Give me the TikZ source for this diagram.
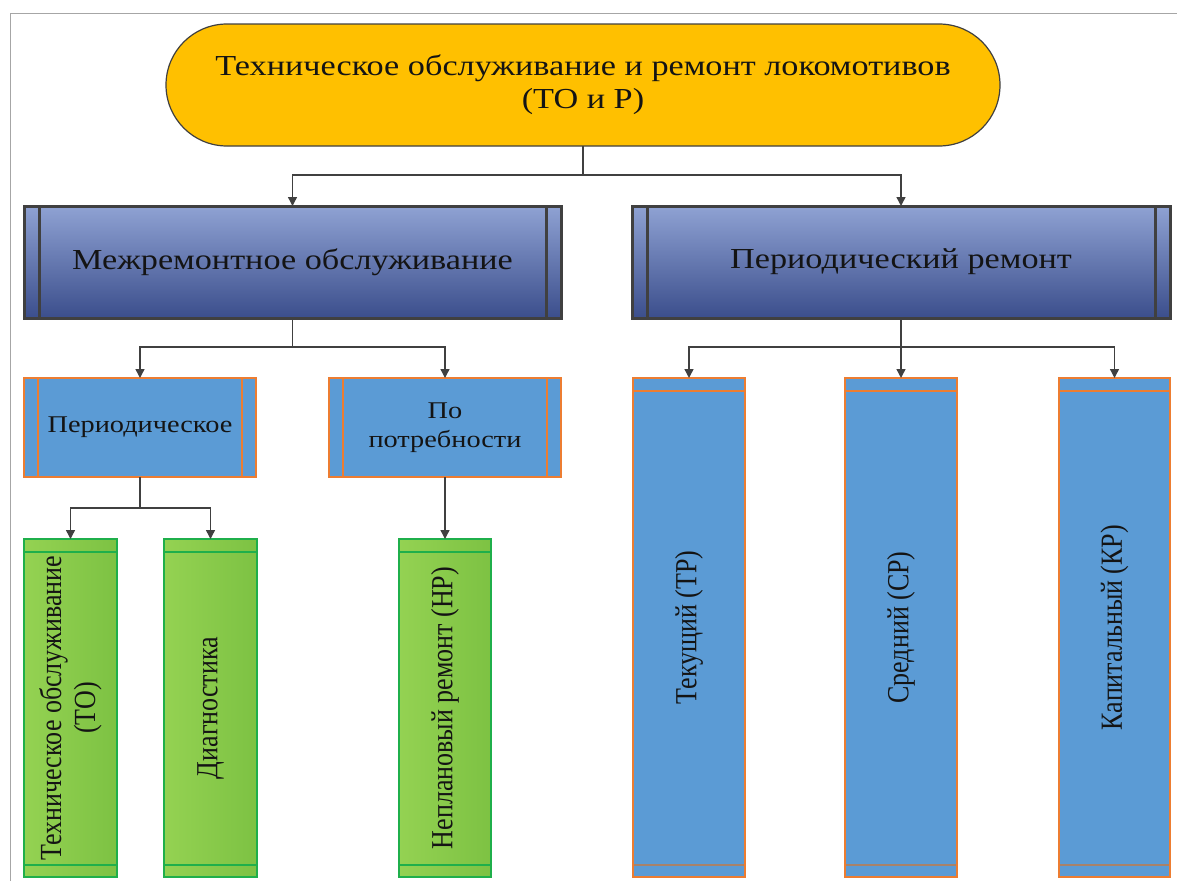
\documentclass[tikz,border=0pt]{standalone}
\usepackage{fontspec}
\setmainfont{Liberation Serif}[FakeStretch=1.18]
\newfontfamily\upfont{Liberation Serif}[FakeStretch=0.847]
\usetikzlibrary{arrows.meta}

\definecolor{gold}{HTML}{FFC000}
\definecolor{edge}{HTML}{404040}
\definecolor{navtop}{HTML}{8FA2D3}
\definecolor{navbot}{HTML}{3B4E8C}
\definecolor{skyfill}{HTML}{5B9BD5}
\definecolor{orangeline}{HTML}{ED7D31}
\definecolor{brownline}{HTML}{A8826A}
\definecolor{leafL}{HTML}{94D252}
\definecolor{leafR}{HTML}{7DC243}
\definecolor{leafline}{HTML}{1FAF4B}
\definecolor{framegray}{HTML}{A6A6A6}
\definecolor{ink}{HTML}{141414}

\begin{document}
\begin{tikzpicture}[x=1pt,y=-1pt,
  every node/.style={inner sep=0pt, outer sep=0pt, text=ink},
  rootbox/.style={draw=edge, line width=1.2pt, fill=gold, rounded corners=61pt,
    minimum width=834pt, minimum height=122pt, align=center,
    font=\fontsize{29}{33}\selectfont},
  darkbox/.style={draw=edge, line width=3pt, top color=navtop, bottom color=navbot,
    minimum width=537pt, minimum height=112pt, font=\fontsize{29}{33}\selectfont,
    path picture={\draw[edge, line width=3pt]
      ([xshift=15pt]path picture bounding box.north west) -- ([xshift=15pt]path picture bounding box.south west)
      ([xshift=-15pt]path picture bounding box.north east) -- ([xshift=-15pt]path picture bounding box.south east);}},
  skybox/.style={draw=orangeline, line width=1.5pt, fill=skyfill,
    minimum width=232pt, minimum height=99pt, align=center,
    font=\fontsize{24}{29}\selectfont,
    path picture={\draw[orangeline, line width=1.5pt]
      ([xshift=14pt]path picture bounding box.north west) -- ([xshift=14pt]path picture bounding box.south west)
      ([xshift=-14pt]path picture bounding box.north east) -- ([xshift=-14pt]path picture bounding box.south east);}},
  tallbox/.style={draw=orangeline, line width=1.5pt, fill=skyfill,
    minimum width=112pt, minimum height=499pt,
    path picture={\draw[orangeline, line width=1.5pt]
      ([yshift=-13pt]path picture bounding box.north west) -- ([yshift=-13pt]path picture bounding box.north east);
      \draw[brownline, line width=2pt]
      ([yshift=12pt]path picture bounding box.south west) -- ([yshift=12pt]path picture bounding box.south east);}},
  leafbox/.style={draw=leafline, line width=1.5pt, left color=leafL, right color=leafR,
    minimum width=93pt, minimum height=338pt,
    path picture={\draw[leafline, line width=1.5pt]
      ([yshift=-13pt]path picture bounding box.north west) -- ([yshift=-13pt]path picture bounding box.north east)
      ([yshift=12pt]path picture bounding box.south west) -- ([yshift=12pt]path picture bounding box.south east);}},
  uplabel/.style={rotate=90, align=center, font=\upfont\fontsize{30.7}{34}\selectfont},
  conn/.style={draw=edge, line width=1.4pt},
  arr/.style={conn, -{Triangle[width=9pt,length=9pt]}}
]
\useasboundingbox (0,0) rectangle (1177,881);

% outer frame
\draw[framegray, line width=1pt] (10,881) -- (10,13) -- (1177,13);

% top level
\node[rootbox] (root) at (583,85) {\raisebox{-2pt}{Техническое обслуживание и ремонт локомотивов}\\\raisebox{-2pt}{(ТО и Р)}};

% second level
\node[darkbox] (inter) at (292.5,262) {Межремонтное обслуживание};
\node[darkbox, minimum width=538pt] (period) at (901,262) {Периодический ремонт};

% third level, left branch
\node[skybox] (regular) at (140,427.5) {Периодическое};
\node[skybox] (need) at (445,427.5) {По\\потребности};

% third level, right branch
\node[tallbox] (tr) at (689,627.5) {};
\node[tallbox] (sr) at (901,627.5) {};
\node[tallbox, minimum width=111pt] (kr) at (1114.5,627.5) {};
\node[uplabel] (trT) at (tr.center) {Текущий (ТР)};
\node[uplabel] (srT) at (sr.center) {Средний (СР)};
\node[uplabel] (krT) at (kr.center) {Капитальный (КР)};

% fourth level
\node[leafbox] (to) at (70.5,708) {};
\node[leafbox] (diag) at (210.5,708) {};
\node[leafbox, minimum width=92pt] (np) at (445,708) {};
\node[uplabel] (toT) at (to.center) {Техническое обслуживание\\(ТО)};
\node[uplabel] (diagT) at (diag.center) {Диагностика};
\node[uplabel] (npT) at (np.center) {Неплановый ремонт (НР)};

% junction points
\coordinate (j0) at (583,175);
\coordinate (j1) at (292.5,347);
\coordinate (j2) at (901,347);
\coordinate (j3) at (140,508);

% connectors
\draw[conn] (root.south) -- (j0);
\draw[arr] (j0) -| (inter.north);
\draw[arr] (j0) -| (period.north);

\draw[conn] (inter.south) -- (j1);
\draw[arr] (j1) -| (regular.north);
\draw[arr] (j1) -| (need.north);

\draw[conn] (period.south) -- (j2);
\draw[arr] (j2) -| (tr.north);
\draw[arr] (j2) -- (sr.north);
\draw[arr] (j2) -| (kr.north);

\draw[conn] (regular.south) -- (j3);
\draw[arr] (j3) -| (to.north);
\draw[arr] (j3) -| (diag.north);

\draw[arr] (need.south) -- (np.north);
\end{tikzpicture}
\end{document}
